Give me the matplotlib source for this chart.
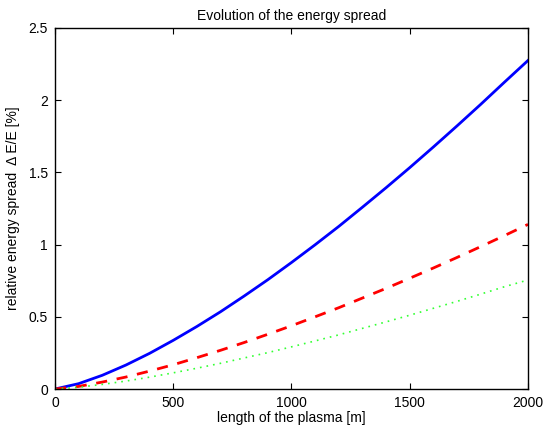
import matplotlib
matplotlib.use('Agg')
import matplotlib.pyplot as plt

plt.rcParams['font.family'] = ['Liberation Sans', 'DejaVu Sans']

# plasma length [m]
length = [0, 100, 200, 300, 400, 500, 600, 700, 800, 900, 1000,
          1100, 1200, 1300, 1400, 1500, 1600, 1700, 1800, 1900, 2000]

# relative energy spread [%]
spread_blue = [0, 0.037, 0.095, 0.166, 0.247, 0.337, 0.433, 0.535, 0.644, 0.757, 0.876,
               0.999, 1.126, 1.259, 1.394, 1.533, 1.676, 1.822, 1.971, 2.124, 2.275]
spread_red = [0, 0.018, 0.048, 0.083, 0.124, 0.168, 0.217, 0.268, 0.322, 0.379, 0.438,
              0.500, 0.563, 0.630, 0.697, 0.767, 0.838, 0.911, 0.986, 1.062, 1.14]
spread_green = [0, 0.012, 0.032, 0.055, 0.082, 0.112, 0.144, 0.178, 0.215, 0.252, 0.292,
                0.333, 0.375, 0.420, 0.465, 0.511, 0.559, 0.607, 0.657, 0.708, 0.755]

fig = plt.figure(figsize=(5.46, 4.28), dpi=100)
ax = fig.add_axes([0.1007, 0.0911, 0.8663, 0.8435])

ax.plot(length, spread_blue, '-', color='#0000ff', linewidth=2)
ax.plot(length, spread_red, '--', color='#ff0000', linewidth=2, dashes=(4, 3.5))
ax.plot(length, spread_green, ':', color='#33ff33', linewidth=1.2, dashes=(1, 3))

ax.set_xlim(0, 2000)
ax.set_ylim(0, 2.5)
ax.set_xticks([0, 500, 1000, 1500, 2000])
ax.set_yticks([0, 0.5, 1, 1.5, 2, 2.5])
ax.set_yticklabels(['0', '0.5', '1', '1.5', '2', '2.5'])
ax.tick_params(direction='in', top=True, right=True, length=4, labelsize=10, pad=5)
for s in ax.spines.values():
    s.set_linewidth(1)

ax.set_title('Evolution of the energy spread', fontsize=10, pad=6)
ax.set_xlabel('length of the plasma [m]', fontsize=10, labelpad=1)
ax.set_ylabel('relative energy spread  \u0394 E/E [%]', fontsize=10, labelpad=6)

fig.savefig('out.png', dpi=100)
